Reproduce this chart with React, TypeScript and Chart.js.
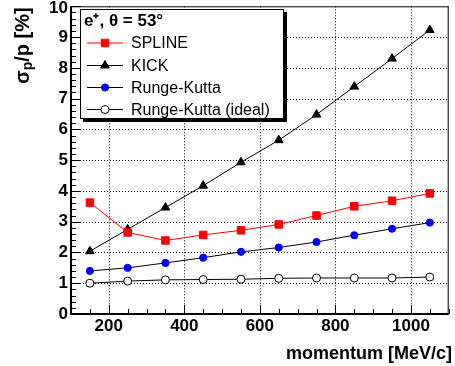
import React, { useEffect, useRef } from "react";
import { Chart, registerables } from "chart.js";

Chart.register(...registerables);

const momentum = [150, 250, 350, 450, 550, 650, 750, 850, 950, 1050];
const spline = [3.62, 2.65, 2.39, 2.57, 2.72, 2.91, 3.2, 3.5, 3.68, 3.92];
const kick = [2.04, 2.75, 3.46, 4.17, 4.93, 5.65, 6.48, 7.39, 8.3, 9.23];
const rungeKutta = [1.4, 1.5, 1.66, 1.83, 2.02, 2.16, 2.34, 2.56, 2.77, 2.97];
const rungeKuttaIdeal = [1.0, 1.07, 1.11, 1.12, 1.13, 1.16, 1.17, 1.17, 1.17, 1.2];
const seriesLabels = ["SPLINE", "KICK", "Runge-Kutta", "Runge-Kutta (ideal)"];
const xTickValues = [200, 400, 600, 800, 1000];
const yTickValues = [0, 1, 2, 3, 4, 5, 6, 7, 8, 9, 10];
const legendTitle = "e\u207A, \u03B8 = 53\u00B0";
const xTitle = "momentum [MeV/c]";

const FONT = "'Liberation Sans', Arial, Helvetica, sans-serif";

const pts = (ys: number[]) => momentum.map((x, i) => ({ x, y: ys[i] }));

const styles = [
  { color: "#ff0000", line: "#ff0000", pointStyle: "rect", radius: 5.3, fill: "#ff0000" },
  { color: "#000000", line: "#000000", pointStyle: "triangle", radius: 5, fill: "#000000" },
  { color: "#0000ff", line: "#000000", pointStyle: "circle", radius: 3.6, fill: "#0000ff" },
  { color: "#000000", line: "#000000", pointStyle: "circle", radius: 4, fill: "#ffffff" },
];

function drawMarker(ctx: CanvasRenderingContext2D, style: string, x: number, y: number, r: number, fill: string, stroke: string) {
  ctx.save();
  ctx.fillStyle = fill;
  ctx.strokeStyle = stroke;
  ctx.lineWidth = 1;
  ctx.beginPath();
  if (style === "rect") {
    const s = Math.SQRT1_2 * r;
    ctx.rect(x - s, y - s, 2 * s, 2 * s);
  } else if (style === "triangle") {
    ctx.moveTo(x, y - r);
    ctx.lineTo(x + r * 0.866, y + r * 0.5);
    ctx.lineTo(x - r * 0.866, y + r * 0.5);
    ctx.closePath();
  } else {
    ctx.arc(x, y, r, 0, Math.PI * 2);
  }
  ctx.fill();
  ctx.stroke();
  ctx.restore();
}

const decorPlugin = {
  id: "decor",
  beforeDatasetsDraw(chart: any) {
    const { ctx, chartArea: a, scales } = chart;
    const xs = scales.x, ys = scales.y;
    ctx.save();
    ctx.strokeStyle = "#000";
    ctx.lineWidth = 1;
    ctx.setLineDash([1, 2]);
    ctx.beginPath();
    for (const v of xTickValues) {
      const px = Math.round(xs.getPixelForValue(v)) + 0.5;
      ctx.moveTo(px, a.top);
      ctx.lineTo(px, a.bottom);
    }
    for (const v of yTickValues) {
      if (v === 0 || v === 10) continue;
      const py = Math.round(ys.getPixelForValue(v)) + 0.5;
      ctx.moveTo(a.left, py);
      ctx.lineTo(a.right, py);
    }
    ctx.stroke();
    ctx.restore();
  },
  afterDatasetsDraw(chart: any) {
    const { ctx, chartArea: a, scales } = chart;
    const xs = scales.x, ys = scales.y;
    ctx.save();
    // frame
    ctx.setLineDash([]);
    ctx.strokeStyle = "#000";
    ctx.lineWidth = 1;
    ctx.beginPath();
    ctx.moveTo(a.left, a.top + 0.5);
    ctx.lineTo(a.right, a.top + 0.5);
    ctx.moveTo(a.right - 0.5, a.top);
    ctx.lineTo(a.right - 0.5, a.bottom);
    ctx.stroke();
    ctx.lineWidth = 2;
    ctx.beginPath();
    ctx.moveTo(a.left, a.top);
    ctx.lineTo(a.left, a.bottom);
    ctx.lineTo(a.right, a.bottom);
    ctx.stroke();

    // ticks
    ctx.lineWidth = 1;
    ctx.beginPath();
    for (let v = 100; v <= 1100; v += 50) {
      const px = Math.round(xs.getPixelForValue(v)) + 0.5;
      const len = xTickValues.includes(v) ? 9 : 5;
      ctx.moveTo(px, a.bottom);
      ctx.lineTo(px, a.bottom - len);
    }
    for (let i = 0; i <= 50; i++) {
      const v = i * 0.2;
      const py = Math.round(ys.getPixelForValue(v)) + 0.5;
      const len = i % 5 === 0 ? 10 : 5;
      ctx.moveTo(a.left, py);
      ctx.lineTo(a.left + len, py);
    }
    ctx.stroke();

    // tick labels
    ctx.fillStyle = "#000";
    ctx.font = `bold 17px ${FONT}`;
    ctx.textAlign = "right";
    ctx.textBaseline = "middle";
    for (const v of yTickValues) {
      ctx.fillText(String(v), a.left - 3, ys.getPixelForValue(v) + (v === 10 ? 2 : 0));
    }
    ctx.textAlign = "center";
    ctx.textBaseline = "top";
    for (const v of xTickValues) {
      ctx.fillText(String(v), xs.getPixelForValue(v), a.bottom + 4);
    }

    // x title
    ctx.font = `bold 18px ${FONT}`;
    ctx.textAlign = "right";
    ctx.textBaseline = "alphabetic";
    ctx.fillText(xTitle, 452, 359);

    // y title: sigma_p/p [%]
    ctx.save();
    ctx.translate(29, a.top);
    ctx.rotate(-Math.PI / 2);
    ctx.textAlign = "left";
    const big = `bold 20px ${FONT}`;
    const small = `bold 14px ${FONT}`;
    ctx.font = big;
    const w1 = ctx.measureText("\u03C3").width;
    const w3 = ctx.measureText("/p [%]").width;
    ctx.font = small;
    const w2 = ctx.measureText("p").width;
    let x0 = -(w1 + w2 + w3) - 1;
    ctx.font = big;
    ctx.fillText("\u03C3", x0, 0);
    x0 += w1;
    ctx.font = small;
    ctx.fillText("p", x0, 3);
    x0 += w2;
    ctx.font = big;
    ctx.fillText("/p [%]", x0, 0);
    ctx.restore();

    // legend box
    const lx = 80, ly = 9, lw = 204, lh = 110;
    ctx.fillStyle = "#000";
    ctx.fillRect(lx + 3, ly + 3, lw, lh);
    ctx.fillStyle = "#fff";
    ctx.fillRect(lx, ly, lw, lh);
    ctx.strokeStyle = "#000";
    ctx.lineWidth = 1;
    ctx.strokeRect(lx + 0.5, ly + 0.5, lw - 1, lh - 1);

    ctx.fillStyle = "#000";
    ctx.font = `bold 17px ${FONT}`;
    ctx.textAlign = "left";
    ctx.textBaseline = "alphabetic";
    ctx.fillText(legendTitle, 84, 26);

    const rowY = [43, 65.5, 87.5, 109.5];
    for (let i = 0; i < 4; i++) {
      const s = styles[i];
      const y = rowY[i];
      ctx.strokeStyle = s.line;
      ctx.lineWidth = 1;
      ctx.beginPath();
      ctx.moveTo(87, y);
      ctx.lineTo(123, y);
      ctx.stroke();
      drawMarker(ctx, s.pointStyle, 105, y, s.radius, s.fill, s.color);
      ctx.fillStyle = "#000";
      ctx.font = `16px ${FONT}`;
      ctx.textBaseline = "middle";
      ctx.fillText(seriesLabels[i], 131, y + 1);
    }
    ctx.restore();
  },
};

export default function App() {
  const ref = useRef<HTMLCanvasElement | null>(null);
  useEffect(() => {
    if (!ref.current) return;
    const data = [spline, kick, rungeKutta, rungeKuttaIdeal];
    const chart = new Chart(ref.current, {
      type: "scatter",
      data: {
        datasets: data.map((d, i) => ({
          label: seriesLabels[i],
          data: pts(d),
          showLine: true,
          borderColor: styles[i].line,
          borderWidth: 1,
          pointStyle: styles[i].pointStyle as any,
          pointRadius: styles[i].radius,
          pointBackgroundColor: styles[i].fill,
          pointBorderColor: styles[i].color,
          pointBorderWidth: 1,
        })),
      },
      options: {
        responsive: false,
        animation: false,
        events: [],
        layout: { padding: { top: 5, right: 1, left: 0, bottom: 0 } },
        plugins: { legend: { display: false }, tooltip: { enabled: false } },
        scales: {
          x: {
            type: "linear",
            min: 100,
            max: 1100,
            grid: { display: false },
            border: { display: false },
            ticks: { display: false },
            afterFit: (s: any) => {
              s.height = 52;
            },
          },
          y: {
            type: "linear",
            min: 0,
            max: 10,
            grid: { display: false },
            border: { display: false },
            ticks: { display: false },
            afterFit: (s: any) => {
              s.width = 71;
            },
          },
        },
      },
      plugins: [decorPlugin],
    });
    return () => chart.destroy();
  }, []);
  return (
    <div style={{ position: "absolute", left: 0, top: 0, width: 455, height: 366, background: "#fff" }}>
      <canvas ref={ref} width={455} height={366} style={{ width: 455, height: 366 }} />
    </div>
  );
}
